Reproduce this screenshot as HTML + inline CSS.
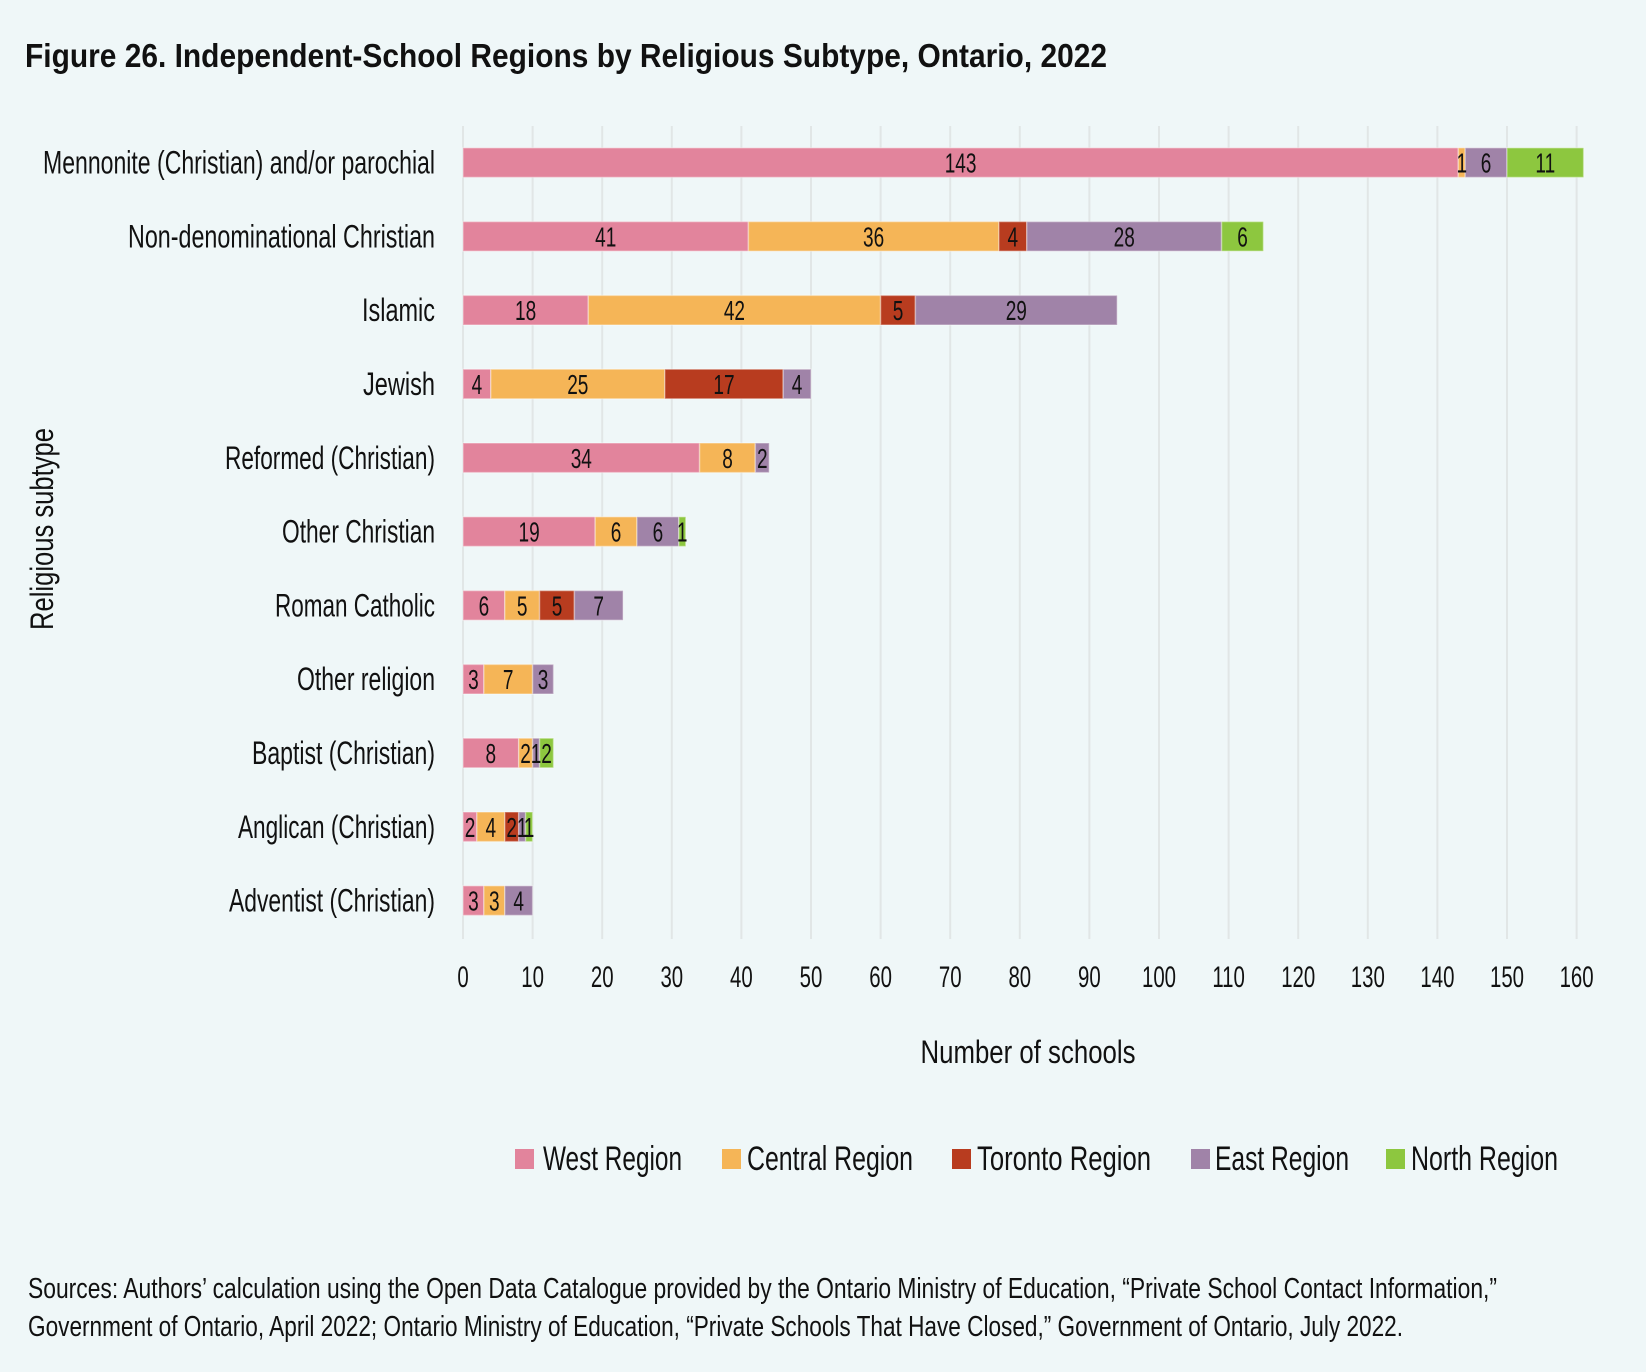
<!DOCTYPE html>
<html><head><meta charset="utf-8"><style>
html,body{margin:0;padding:0;background:#EFF7F8;}
svg{display:block;}
text{font-family:"Liberation Sans",sans-serif;fill:#111;}
</style></head><body>
<svg width="1646" height="1372" viewBox="0 0 1646 1372" xmlns="http://www.w3.org/2000/svg">
<rect width="1646" height="1372" fill="#EFF7F8"/>
<text x="25" y="67" font-size="33" font-weight="bold" textLength="1082" lengthAdjust="spacingAndGlyphs">Figure 26. Independent-School Regions by Religious Subtype, Ontario, 2022</text>

<g stroke="#E1E6E6" stroke-width="2">
<line x1="463" y1="126" x2="463" y2="939"/>
<line x1="532.6" y1="126" x2="532.6" y2="939"/>
<line x1="602.2" y1="126" x2="602.2" y2="939"/>
<line x1="671.8" y1="126" x2="671.8" y2="939"/>
<line x1="741.4" y1="126" x2="741.4" y2="939"/>
<line x1="811" y1="126" x2="811" y2="939"/>
<line x1="880.6" y1="126" x2="880.6" y2="939"/>
<line x1="950.2" y1="126" x2="950.2" y2="939"/>
<line x1="1019.8" y1="126" x2="1019.8" y2="939"/>
<line x1="1089.4" y1="126" x2="1089.4" y2="939"/>
<line x1="1159" y1="126" x2="1159" y2="939"/>
<line x1="1228.6" y1="126" x2="1228.6" y2="939"/>
<line x1="1298.2" y1="126" x2="1298.2" y2="939"/>
<line x1="1367.8" y1="126" x2="1367.8" y2="939"/>
<line x1="1437.4" y1="126" x2="1437.4" y2="939"/>
<line x1="1507" y1="126" x2="1507" y2="939"/>
<line x1="1576.6" y1="126" x2="1576.6" y2="939"/>
</g>

<g stroke="rgba(255,255,255,0.35)" stroke-width="1.5">
<!-- row 0 -->
<rect x="463" y="147.8" width="995.3" height="29.6" fill="#E2849C"/>
<rect x="1458.3" y="147.8" width="6.96" height="29.6" fill="#F5B557"/>
<rect x="1465.2" y="147.8" width="41.8" height="29.6" fill="#A083A8"/>
<rect x="1507" y="147.8" width="76.6" height="29.6" fill="#8DC73F"/>
<!-- row 1 -->
<rect x="463" y="221.6" width="285.4" height="29.6" fill="#E2849C"/>
<rect x="748.4" y="221.6" width="250.6" height="29.6" fill="#F5B557"/>
<rect x="998.9" y="221.6" width="27.9" height="29.6" fill="#B83C1F"/>
<rect x="1026.8" y="221.6" width="194.8" height="29.6" fill="#A083A8"/>
<rect x="1221.6" y="221.6" width="41.8" height="29.6" fill="#8DC73F"/>
<!-- row 2 -->
<rect x="463" y="295.4" width="125.3" height="29.6" fill="#E2849C"/>
<rect x="588.3" y="295.4" width="292.3" height="29.6" fill="#F5B557"/>
<rect x="880.6" y="295.4" width="34.8" height="29.6" fill="#B83C1F"/>
<rect x="915.4" y="295.4" width="201.8" height="29.6" fill="#A083A8"/>
<!-- row 3 -->
<rect x="463" y="369.2" width="27.8" height="29.6" fill="#E2849C"/>
<rect x="490.8" y="369.2" width="174" height="29.6" fill="#F5B557"/>
<rect x="664.8" y="369.2" width="118.4" height="29.6" fill="#B83C1F"/>
<rect x="783.2" y="369.2" width="27.8" height="29.6" fill="#A083A8"/>
<!-- row 4 -->
<rect x="463" y="443" width="236.6" height="29.6" fill="#E2849C"/>
<rect x="699.6" y="443" width="55.7" height="29.6" fill="#F5B557"/>
<rect x="755.3" y="443" width="13.9" height="29.6" fill="#A083A8"/>
<!-- row 5 -->
<rect x="463" y="516.8" width="132.2" height="29.6" fill="#E2849C"/>
<rect x="595.2" y="516.8" width="41.8" height="29.6" fill="#F5B557"/>
<rect x="637" y="516.8" width="41.8" height="29.6" fill="#A083A8"/>
<rect x="678.8" y="516.8" width="6.96" height="29.6" fill="#8DC73F"/>
<!-- row 6 -->
<rect x="463" y="590.6" width="41.8" height="29.6" fill="#E2849C"/>
<rect x="504.8" y="590.6" width="34.8" height="29.6" fill="#F5B557"/>
<rect x="539.6" y="590.6" width="34.8" height="29.6" fill="#B83C1F"/>
<rect x="574.4" y="590.6" width="48.7" height="29.6" fill="#A083A8"/>
<!-- row 7 -->
<rect x="463" y="664.4" width="20.9" height="29.6" fill="#E2849C"/>
<rect x="483.9" y="664.4" width="48.7" height="29.6" fill="#F5B557"/>
<rect x="532.6" y="664.4" width="20.9" height="29.6" fill="#A083A8"/>
<!-- row 8 -->
<rect x="463" y="738.2" width="55.7" height="29.6" fill="#E2849C"/>
<rect x="518.7" y="738.2" width="13.9" height="29.6" fill="#F5B557"/>
<rect x="532.6" y="738.2" width="7" height="29.6" fill="#A083A8"/>
<rect x="539.6" y="738.2" width="13.9" height="29.6" fill="#8DC73F"/>
<!-- row 9 -->
<rect x="463" y="812" width="13.9" height="29.6" fill="#E2849C"/>
<rect x="476.9" y="812" width="27.9" height="29.6" fill="#F5B557"/>
<rect x="504.8" y="812" width="13.9" height="29.6" fill="#B83C1F"/>
<rect x="518.7" y="812" width="7" height="29.6" fill="#A083A8"/>
<rect x="525.6" y="812" width="7" height="29.6" fill="#8DC73F"/>
<!-- row 10 -->
<rect x="463" y="885.8" width="20.9" height="29.6" fill="#E2849C"/>
<rect x="483.9" y="885.8" width="20.9" height="29.6" fill="#F5B557"/>
<rect x="504.8" y="885.8" width="27.8" height="29.6" fill="#A083A8"/>
</g>

<!-- bar value labels -->
<g font-size="28" text-anchor="middle">
<text transform="translate(960.6,172.6) scale(0.68,1)">143</text>
<text transform="translate(1461.8,172.6) scale(0.68,1)">1</text>
<text transform="translate(1486.1,172.6) scale(0.68,1)">6</text>
<text transform="translate(1545.3,172.6) scale(0.68,1)">11</text>

<text transform="translate(605.7,246.4) scale(0.68,1)">41</text>
<text transform="translate(873.6,246.4) scale(0.68,1)">36</text>
<text transform="translate(1012.8,246.4) scale(0.68,1)">4</text>
<text transform="translate(1124.2,246.4) scale(0.68,1)">28</text>
<text transform="translate(1242.5,246.4) scale(0.68,1)">6</text>

<text transform="translate(525.6,320.2) scale(0.68,1)">18</text>
<text transform="translate(734.4,320.2) scale(0.68,1)">42</text>
<text transform="translate(898,320.2) scale(0.68,1)">5</text>
<text transform="translate(1016.3,320.2) scale(0.68,1)">29</text>

<text transform="translate(476.9,394) scale(0.68,1)">4</text>
<text transform="translate(577.8,394) scale(0.68,1)">25</text>
<text transform="translate(724,394) scale(0.68,1)">17</text>
<text transform="translate(797.1,394) scale(0.68,1)">4</text>

<text transform="translate(581.3,467.8) scale(0.68,1)">34</text>
<text transform="translate(727.5,467.8) scale(0.68,1)">8</text>
<text transform="translate(762.3,467.8) scale(0.68,1)">2</text>

<text transform="translate(529.1,541.6) scale(0.68,1)">19</text>
<text transform="translate(616.1,541.6) scale(0.68,1)">6</text>
<text transform="translate(657.9,541.6) scale(0.68,1)">6</text>
<text transform="translate(682.2,541.6) scale(0.68,1)">1</text>

<text transform="translate(483.9,615.4) scale(0.68,1)">6</text>
<text transform="translate(522.2,615.4) scale(0.68,1)">5</text>
<text transform="translate(557,615.4) scale(0.68,1)">5</text>
<text transform="translate(598.7,615.4) scale(0.68,1)">7</text>

<text transform="translate(473.4,689.2) scale(0.68,1)">3</text>
<text transform="translate(508.2,689.2) scale(0.68,1)">7</text>
<text transform="translate(543,689.2) scale(0.68,1)">3</text>

<text transform="translate(490.8,763) scale(0.68,1)">8</text>
<text transform="translate(525.6,763) scale(0.68,1)">2</text>
<text transform="translate(536.1,763) scale(0.68,1)">1</text>
<text transform="translate(546.5,763) scale(0.68,1)">2</text>

<text transform="translate(470,836.8) scale(0.68,1)">2</text>
<text transform="translate(490.8,836.8) scale(0.68,1)">4</text>
<text transform="translate(511.7,836.8) scale(0.68,1)">2</text>
<text transform="translate(522.2,836.8) scale(0.68,1)">1</text>
<text transform="translate(529.1,836.8) scale(0.68,1)">1</text>

<text transform="translate(473.4,910.6) scale(0.68,1)">3</text>
<text transform="translate(494.3,910.6) scale(0.68,1)">3</text>
<text transform="translate(518.7,910.6) scale(0.68,1)">4</text>
</g>

<!-- row labels -->
<g font-size="32" text-anchor="end">
<text x="435" y="173.6" textLength="392" lengthAdjust="spacingAndGlyphs">Mennonite (Christian) and/or parochial</text>
<text x="435" y="247.4" textLength="307" lengthAdjust="spacingAndGlyphs">Non-denominational Christian</text>
<text x="435" y="321.2" textLength="73" lengthAdjust="spacingAndGlyphs">Islamic</text>
<text x="435" y="395" textLength="72" lengthAdjust="spacingAndGlyphs">Jewish</text>
<text x="435" y="468.8" textLength="210" lengthAdjust="spacingAndGlyphs">Reformed (Christian)</text>
<text x="435" y="542.6" textLength="153" lengthAdjust="spacingAndGlyphs">Other Christian</text>
<text x="435" y="616.4" textLength="160" lengthAdjust="spacingAndGlyphs">Roman Catholic</text>
<text x="435" y="690.2" textLength="138" lengthAdjust="spacingAndGlyphs">Other religion</text>
<text x="435" y="764" textLength="183" lengthAdjust="spacingAndGlyphs">Baptist (Christian)</text>
<text x="435" y="837.8" textLength="197" lengthAdjust="spacingAndGlyphs">Anglican (Christian)</text>
<text x="435" y="911.6" textLength="206" lengthAdjust="spacingAndGlyphs">Adventist (Christian)</text>
</g>

<!-- tick labels -->
<g font-size="30" text-anchor="middle">
<text transform="translate(463,987) scale(0.68,1)">0</text>
<text transform="translate(532.6,987) scale(0.68,1)">10</text>
<text transform="translate(602.2,987) scale(0.68,1)">20</text>
<text transform="translate(671.8,987) scale(0.68,1)">30</text>
<text transform="translate(741.4,987) scale(0.68,1)">40</text>
<text transform="translate(811,987) scale(0.68,1)">50</text>
<text transform="translate(880.6,987) scale(0.68,1)">60</text>
<text transform="translate(950.2,987) scale(0.68,1)">70</text>
<text transform="translate(1019.8,987) scale(0.68,1)">80</text>
<text transform="translate(1089.4,987) scale(0.68,1)">90</text>
<text transform="translate(1159,987) scale(0.68,1)">100</text>
<text transform="translate(1228.6,987) scale(0.68,1)">110</text>
<text transform="translate(1298.2,987) scale(0.68,1)">120</text>
<text transform="translate(1367.8,987) scale(0.68,1)">130</text>
<text transform="translate(1437.4,987) scale(0.68,1)">140</text>
<text transform="translate(1507,987) scale(0.68,1)">150</text>
<text transform="translate(1576.6,987) scale(0.68,1)">160</text>
</g>

<text x="1028" y="1063" font-size="32" text-anchor="middle" textLength="215" lengthAdjust="spacingAndGlyphs">Number of schools</text>
<text transform="translate(53,529) rotate(-90)" font-size="32" text-anchor="middle" textLength="202" lengthAdjust="spacingAndGlyphs">Religious subtype</text>

<!-- legend -->
<rect x="515" y="1149" width="19" height="20" fill="#E2849C"/>
<text x="543" y="1170" font-size="34" textLength="139" lengthAdjust="spacingAndGlyphs">West Region</text>
<rect x="722" y="1149" width="19" height="20" fill="#F5B557"/>
<text x="747" y="1170" font-size="34" textLength="166" lengthAdjust="spacingAndGlyphs">Central Region</text>
<rect x="952" y="1149" width="19" height="20" fill="#B83C1F"/>
<text x="977" y="1170" font-size="34" textLength="174" lengthAdjust="spacingAndGlyphs">Toronto Region</text>
<rect x="1191" y="1149" width="19" height="20" fill="#A083A8"/>
<text x="1215" y="1170" font-size="34" textLength="134" lengthAdjust="spacingAndGlyphs">East Region</text>
<rect x="1386" y="1149" width="19" height="20" fill="#8DC73F"/>
<text x="1411" y="1170" font-size="34" textLength="147" lengthAdjust="spacingAndGlyphs">North Region</text>

<!-- sources -->
<text x="28" y="1298" font-size="29" textLength="1469" lengthAdjust="spacingAndGlyphs">Sources: Authors’ calculation using the Open Data Catalogue provided by the Ontario Ministry of Education, “Private School Contact Information,”</text>
<text x="28" y="1336" font-size="29" textLength="1375" lengthAdjust="spacingAndGlyphs">Government of Ontario, April 2022; Ontario Ministry of Education, “Private Schools That Have Closed,” Government of Ontario, July 2022.</text>
</svg>
</body></html>
